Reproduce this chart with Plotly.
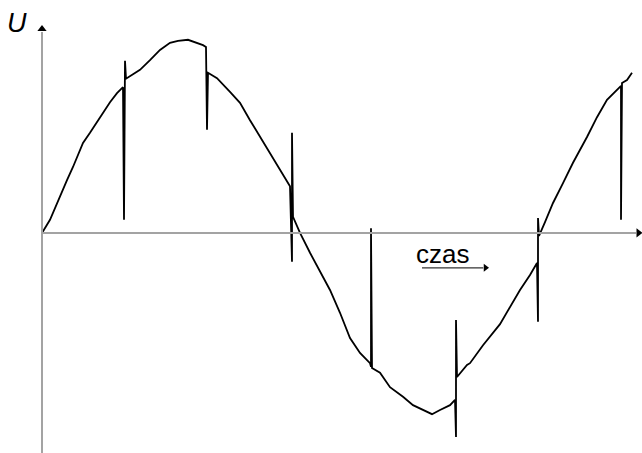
import plotly.graph_objects as go

# Recorded voltage waveform with switching transients (time in ms, voltage in V).
# None marks a gap in the trace.
time_ms = [
    0.00, 0.00, None, 0.00, 0.00, 0.32, 0.60, 1.00, 1.24, 1.64, 1.92, 2.32, 2.72, 3.00, 3.24,
    3.28, 3.32, 3.36, 3.92, 4.32, 4.72, 5.12, 5.44, 5.84, 6.12, 6.44, 6.56,
    6.60, 6.64, 7.00, 7.52, 7.92, 8.32, 8.72, 9.12, 9.52, 9.92,
    10.00, 10.00, 10.04, 10.32, 10.72, 11.04, 11.52, 11.92, 12.32, 12.72, 13.12, 13.16,
    13.16, 13.20, 13.52, 13.92, 14.44, 14.84, 15.40, 15.60, 15.92, 16.32, 16.52,
    16.56, 16.56, 16.60, 17.00, 17.12, 17.64, 18.32, 19.12, 19.52, 19.80,
    19.84, 19.84, 19.88, 20.12, 20.44, 20.84, 21.24, 21.80, 22.20, 22.60, 23.00, 23.16,
    23.16, 23.20, 23.40, 23.60,
]
voltage_v = [
    -142, -108, None, -73, 0, 22, 50, 88, 110, 150, 167, 193, 218, 233, 243,
    22, 287, 257, 272, 288, 305, 317, 320, 322, 318, 313, 310,
    172, 267, 258, 235, 217, 188, 160, 133, 105, 78,
    -48, 167, 27, 0, -33, -57, -95, -133, -175, -200, -217, -223,
    8, -225, -233, -257, -273, -287, -298, -302, -295, -287, -278,
    -340, -145, -240, -220, -217, -187, -152, -95, -70, -50,
    -148, 25, -5, 18, 50, 83, 117, 160, 193, 222, 238, 245,
    22, 250, 255, 267,
]

X_RANGE = [-1.68, 24.0]
Y_RANGE = [-366.7, 388.3]
AXIS_GRAY = "#a3a3a3"

fig = go.Figure()

# Axes with arrowheads
fig.add_shape(type="line", x0=0, x1=0, y0=Y_RANGE[0], y1=335,
              line=dict(color=AXIS_GRAY, width=2))
fig.add_shape(type="line", x0=0, x1=23.76, y0=0, y1=0,
              line=dict(color=AXIS_GRAY, width=2))
fig.add_trace(go.Scatter(x=[0], y=[340], mode="markers",
                         marker=dict(symbol="triangle-up", size=8, color="black"),
                         hoverinfo="skip"))
fig.add_trace(go.Scatter(x=[23.86], y=[0], mode="markers",
                         marker=dict(symbol="triangle-right", size=8, color="black"),
                         hoverinfo="skip"))

# Signal
fig.add_trace(go.Scatter(x=time_ms, y=voltage_v, mode="lines",
                         line=dict(color="black", width=1.8),
                         connectgaps=False, hoverinfo="skip"))

# Time direction arrow
fig.add_shape(type="line", x0=15.2, x1=17.65, y0=-58, y1=-58,
              line=dict(color="#333333", width=1.2))
fig.add_trace(go.Scatter(x=[17.74], y=[-58], mode="markers",
                         marker=dict(symbol="triangle-right", size=7, color="black"),
                         hoverinfo="skip"))

fig.add_annotation(x=-1.0, y=350, text="<i>U</i>", showarrow=False,
                   font=dict(family="Liberation Sans, Arial", size=27, color="black"),
                   xanchor="center", yanchor="middle")
fig.add_annotation(x=16.0, y=-35, text="czas", showarrow=False,
                   font=dict(family="Liberation Sans, Arial", size=26, color="black"),
                   xanchor="center", yanchor="middle")

fig.update_layout(
    width=642, height=453,
    margin=dict(l=0, r=0, t=0, b=0),
    paper_bgcolor="white", plot_bgcolor="white",
    showlegend=False,
    xaxis=dict(range=X_RANGE, visible=False, fixedrange=True),
    yaxis=dict(range=Y_RANGE, visible=False, fixedrange=True),
)

fig.write_html("out.html")
